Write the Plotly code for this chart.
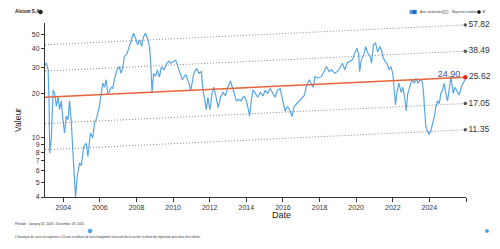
import math
import pandas as pd
import plotly.graph_objects as go

# ---------------- data ----------------
years = [
    2003.00, 2003.08, 2003.17, 2003.22, 2003.26, 2003.35, 2003.44, 2003.53, 2003.62, 2003.71,
    2003.80, 2003.89, 2003.98, 2004.07, 2004.16, 2004.26, 2004.34, 2004.43, 2004.53, 2004.62,
    2004.67, 2004.76, 2004.89, 2004.98, 2005.12, 2005.25, 2005.34, 2005.48, 2005.61, 2005.70,
    2005.79, 2005.89, 2005.97, 2006.07, 2006.16, 2006.25, 2006.34, 2006.43, 2006.52, 2006.61,
    2006.70, 2006.79, 2006.93, 2007.06, 2007.15, 2007.24, 2007.33, 2007.48, 2007.60, 2007.73,
    2007.84, 2007.95, 2008.06, 2008.17, 2008.28, 2008.38, 2008.49, 2008.60, 2008.71, 2008.78,
    2008.85, 2008.93, 2009.04, 2009.14, 2009.25, 2009.36, 2009.51, 2009.65, 2009.78,
    2009.87, 2010.14, 2010.32, 2010.50, 2010.69, 2010.87, 2010.96, 2011.14, 2011.28, 2011.41,
    2011.54, 2011.63, 2011.74, 2011.81, 2011.90, 2012.01, 2012.13, 2012.23, 2012.35, 2012.46,
    2012.59, 2012.73, 2012.86, 2012.99, 2013.13, 2013.24, 2013.35, 2013.46, 2013.58, 2013.71,
    2013.86, 2014.00, 2014.11, 2014.18, 2014.25, 2014.36, 2014.49, 2014.62, 2014.76, 2014.91,
    2015.03, 2015.16, 2015.30, 2015.45, 2015.58, 2015.70, 2015.85, 2015.99, 2016.12, 2016.25,
    2016.36, 2016.50, 2016.61, 2016.75, 2016.90, 2017.03, 2017.15, 2017.30, 2017.44,
    2017.65, 2017.75, 2017.93, 2018.11, 2018.29, 2018.38, 2018.52, 2018.65, 2018.83, 2018.96,
    2019.10, 2019.25, 2019.38, 2019.50, 2019.65, 2019.79, 2019.92, 2020.05, 2020.14, 2020.19,
    2020.28, 2020.41, 2020.52, 2020.64, 2020.77, 2020.84, 2020.95, 2021.06, 2021.17, 2021.28,
    2021.39, 2021.46, 2021.57, 2021.68, 2021.79, 2021.89, 2022.00, 2022.08, 2022.15, 2022.22,
    2022.33, 2022.46, 2022.55, 2022.65, 2022.73, 2022.82, 2022.94, 2023.05, 2023.18, 2023.27,
    2023.38, 2023.49, 2023.60, 2023.67, 2023.74, 2023.81, 2023.90, 2023.99, 2024.09, 2024.18,
    2024.27, 2024.36, 2024.45, 2024.54, 2024.63, 2024.72, 2024.81, 2024.90, 2024.99, 2025.08,
    2025.17, 2025.30, 2025.40, 2025.48, 2025.63, 2025.77, 2025.90, 2025.96,
]
prices = [
    31.0, 32.0, 28.8, 18.0, 7.9, 10.2, 21.0, 20.0, 16.3, 19.0,
    15.5, 17.8, 13.3, 10.8, 14.0, 13.3, 17.8, 13.3, 7.9, 5.5,
    4.0, 5.5, 6.8, 6.5, 8.8, 9.2, 7.5, 10.8, 10.0, 12.6,
    13.3, 14.8, 16.3, 20.0, 23.4, 22.0, 24.7, 20.0, 20.5, 22.0,
    21.5, 24.7, 28.8, 30.3, 27.3, 29.5, 35.3, 37.0, 41.3, 45.8,
    50.8, 47.0, 42.5, 45.8, 41.3, 48.0, 50.8, 47.0, 41.3, 31.9,
    20.0, 27.3, 26.0, 28.8, 25.7, 30.3, 28.8, 31.9, 33.0,
    31.9, 33.5, 28.8, 24.7, 26.8, 23.4, 21.0, 27.3, 29.5, 27.3,
    28.0, 21.0, 17.8, 15.5, 18.8, 15.5, 20.0, 22.0, 18.8, 16.0,
    18.8, 20.3, 19.2, 22.0, 24.2, 22.0, 20.3, 17.8, 18.2, 17.8,
    19.2, 17.8, 15.5, 14.0, 17.0, 21.0, 20.0, 18.8, 20.3, 19.2,
    21.0, 20.0, 21.5, 20.0, 18.8, 21.0, 21.5, 17.8, 15.2, 16.3,
    15.5, 14.0, 16.3, 17.0, 17.8, 18.8, 19.2, 22.8, 24.7,
    22.0, 26.0, 25.3, 26.0, 28.8, 30.3, 28.0, 28.8, 27.3, 28.0,
    29.5, 31.9, 28.8, 31.9, 33.0, 33.5, 37.2, 40.2, 36.3, 28.0,
    33.5, 36.3, 41.3, 37.2, 35.3, 31.9, 42.5, 43.6, 38.0, 41.3,
    39.0, 35.3, 33.0, 31.9, 28.8, 30.3, 27.3, 22.0, 16.7, 20.0,
    23.4, 20.3, 22.0, 18.8, 15.2, 20.0, 22.0, 24.7, 23.4, 25.3,
    23.4, 24.7, 24.2, 21.0, 15.5, 11.9, 11.1, 10.5, 11.3, 12.5,
    14.0, 16.3, 17.8, 17.0, 20.0, 21.0, 23.3, 20.0, 17.8, 21.0,
    26.0, 20.0, 22.0, 21.0, 19.5, 22.5, 24.0, 24.9,
]
last_price = 24.90

period_start = "2003-01-02"
period_end = "2025-12-18"

reg_start_value = 18.8
reg_end_value = 25.62
band_end_values = [57.82, 38.49, 17.05, 11.35]

y_tickvals = [4, 5, 6, 7, 8, 9, 10, 20, 30, 40, 50]
x_tick_years = [2004, 2006, 2008, 2010, 2012, 2014, 2016, 2018, 2020, 2022, 2024, 2026]

title_text = "Alstom S.A."
period_text = "Période : January 02, 2003 - December 18, 2025"
note_text = ("L'historique de cours est supérieur à 20 ans en dehors de tout changement structurel "
             "de la société, la droite de régression peut donc être utilisée.")


# ---------------- helpers ----------------
def yr_to_date(y):
    yr = int(y)
    frac = y - yr
    return pd.Timestamp(year=yr, month=1, day=1) + pd.Timedelta(days=frac * 365.25)


dates = [yr_to_date(y) for y in years]
dates[0] = pd.Timestamp(period_start)
dates[-1] = pd.Timestamp(period_end)

W, H = 500, 249
ML, MR, MT, MB = 45, 34, 23, 52
PW, PH = W - ML - MR, H - MT - MB


def px(xp):
    return (xp - ML) / PW


def py(yp):
    return 1 - (yp - MT) / PH


FONT = "Liberation Sans, Arial, sans-serif"

fig = go.Figure()

# price line
fig.add_trace(go.Scatter(
    x=dates, y=prices, mode="lines",
    line=dict(color="#5aa6e2", width=1.2),
    hoverinfo="skip", showlegend=False,
))

# band (dotted) lines
ratio = reg_start_value / reg_end_value
for v in band_end_values:
    fig.add_trace(go.Scatter(
        x=[pd.Timestamp(period_start), pd.Timestamp(period_end)],
        y=[v * ratio, v],
        mode="lines",
        line=dict(color="#7a7a7a", width=0.9, dash="1px,2px"),
        hoverinfo="skip", showlegend=False,
    ))
    fig.add_trace(go.Scatter(
        x=[pd.Timestamp(period_end)], y=[v], mode="markers+text",
        marker=dict(color="#555555", size=3.5),
        text=[f"{v:.2f}"], textposition="middle right",
        textfont=dict(size=8.5, color="#333333", family=FONT),
        cliponaxis=False, hoverinfo="skip", showlegend=False,
    ))

# regression line
fig.add_trace(go.Scatter(
    x=[pd.Timestamp(period_start), pd.Timestamp(period_end)],
    y=[reg_start_value, reg_end_value], mode="lines",
    line=dict(color="#e6643a", width=1.5),
    hoverinfo="skip", showlegend=False,
))
fig.add_trace(go.Scatter(
    x=[pd.Timestamp(period_end)], y=[reg_end_value], mode="markers+text",
    marker=dict(color="#e02a1f", size=4.5),
    text=[f"{reg_end_value:.2f}"], textposition="middle right",
    textfont=dict(size=8.5, color="#333333", family=FONT),
    cliponaxis=False, hoverinfo="skip", showlegend=False,
))

# last price label
fig.add_trace(go.Scatter(
    x=[dates[-1]], y=[last_price], mode="text",
    text=[f"{last_price:.2f}  "], textposition="top left",
    textfont=dict(size=9, color="#4a4c9e", family=FONT),
    cliponaxis=False, hoverinfo="skip", showlegend=False,
))

annotations = [
    dict(x=px(13), y=py(12), xref="paper", yref="paper", text=f"<b>{title_text}</b>",
         showarrow=False, xanchor="left", yanchor="middle",
         font=dict(size=4.6, color="#222222", family=FONT)),
    dict(x=px(18), y=py(120), xref="paper", yref="paper", text="Valeur", textangle=-90,
         showarrow=False, xanchor="center", yanchor="middle",
         font=dict(size=8.5, color="#222222", family=FONT)),
    dict(x=px(281), y=py(215), xref="paper", yref="paper", text="Date",
         showarrow=False, xanchor="center", yanchor="middle",
         font=dict(size=9, color="#222222", family=FONT)),
    dict(x=px(13), y=py(224), xref="paper", yref="paper", text=period_text,
         showarrow=False, xanchor="left", yanchor="middle",
         font=dict(size=3.2, color="#333333", family=FONT)),
    dict(x=px(13), y=py(237), xref="paper", yref="paper", text=note_text,
         showarrow=False, xanchor="left", yanchor="middle",
         font=dict(size=2.9, color="#333333", family=FONT)),
    dict(x=px(418), y=py(12), xref="paper", yref="paper", text="Avec dividendes",
         showarrow=False, xanchor="left", yanchor="middle",
         font=dict(size=3.1, color="#444444", family=FONT)),
    dict(x=px(450), y=py(12), xref="paper", yref="paper", text="Moyennes mobiles",
         showarrow=False, xanchor="left", yanchor="middle",
         font=dict(size=3.1, color="#444444", family=FONT)),
    dict(x=px(484), y=py(12), xref="paper", yref="paper", text="☰",
         showarrow=False, xanchor="center", yanchor="middle",
         font=dict(size=4, color="#777777", family="DejaVu Sans")),
]


def circ(cx, cy, r, fill, line_color=None):
    return dict(type="circle", xref="paper", yref="paper",
                xsizemode="pixel", ysizemode="pixel",
                xanchor=px(cx), yanchor=py(cy),
                x0=-r, x1=r, y0=-r, y1=r,
                fillcolor=fill, line=dict(color=line_color or fill, width=0.6))


def pill(x0, x1, cy, h, fill, line_color):
    return dict(type="rect", xref="paper", yref="paper",
                x0=px(x0), x1=px(x1), y0=py(cy + h / 2), y1=py(cy - h / 2),
                fillcolor=fill, line=dict(color=line_color, width=0.6))


shapes = [
    circ(40.5, 12, 2.0, "#222222"),
    pill(410, 416.5, 12, 3.6, "#4a90e2", "#4a90e2"),
    circ(414.5, 12, 1.6, "#1f5fb5"),
    pill(443, 448, 12, 3.2, "#f2f2f2", "#9a9a9a"),
    circ(444.5, 12, 1.4, "#ffffff", "#8a8a8a"),
    circ(479, 12, 1.5, "#111111"),
    circ(90, 231, 2.0, "#4a9de0"),
    circ(487, 231, 1.6, "#4a9de0"),
]

x_tickvals = [pd.Timestamp(year=y, month=1, day=1) for y in x_tick_years]
x_ticktext = [str(y) if y <= 2024 else "" for y in x_tick_years]

fig.update_layout(
    width=W, height=H,
    margin=dict(l=ML, r=MR, t=MT, b=MB),
    paper_bgcolor="white", plot_bgcolor="white",
    font=dict(family=FONT, color="#333333"),
    showlegend=False,
    annotations=annotations,
    shapes=shapes,
    xaxis=dict(
        type="date",
        range=[pd.Timestamp("2003-01-01"), pd.Timestamp("2026-01-01")],
        tickvals=x_tickvals, ticktext=x_ticktext,
        ticks="outside", ticklen=4, tickcolor="#333333", tickwidth=1,
        showline=True, linecolor="#333333", linewidth=1,
        showgrid=False, zeroline=False,
        tickfont=dict(size=7, color="#333333"),
    ),
    yaxis=dict(
        type="log",
        range=[math.log10(4), 1.775],
        tickvals=y_tickvals, ticktext=[str(v) for v in y_tickvals],
        ticks="outside", ticklen=3, tickcolor="#333333", tickwidth=1,
        showline=True, linecolor="#333333", linewidth=1,
        showgrid=False, zeroline=False,
        tickfont=dict(size=7, color="#333333"),
    ),
)

fig.write_html("out.html")
